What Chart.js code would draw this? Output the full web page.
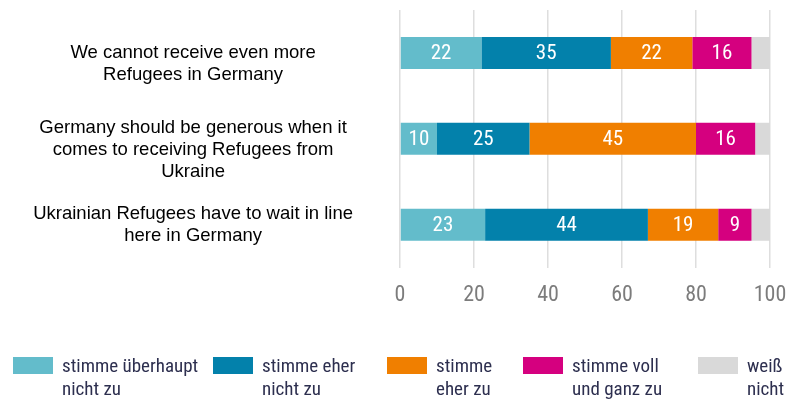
<!DOCTYPE html>
<html>
<head>
<meta charset="utf-8">
<script src="https://cdn.jsdelivr.net/npm/chart.js@4.4.1/dist/chart.umd.min.js"></script>
<style>
    html, body { margin: 0; padding: 0; background: #fff; }
    #wrap { width: 802px; height: 400px; }
</style>
</head>
<body>
<div id="wrap"><canvas id="chart"></canvas></div>
<script>
// Survey statements (blank first lines push the text a bit below the bar centre)
const QUESTIONS = [
    ['', 'We cannot receive even more', 'Refugees in Germany'],
    ['', 'Germany should be generous when it', 'comes to receiving Refugees from', 'Ukraine'],
    ['Ukrainian Refugees have to wait in line', 'here in Germany']
];

// Answer categories, in stacking order
const ANSWERS = [
    ['stimme überhaupt', 'nicht zu'],
    ['stimme eher', 'nicht zu'],
    ['stimme', 'eher zu'],
    ['stimme voll', 'und ganz zu'],
    ['weiß', 'nicht']
];

// Shares in percent, one value per statement
const NOT_AT_ALL = [22, 10, 23];
const RATHER_NOT = [35, 25, 44];
const RATHER_YES = [22, 45, 19];
const FULLY = [16, 16, 9];
const DONT_KNOW = [5, 4, 5];

const X_TICKS = [0, 20, 40, 60, 80, 100];

const COLORS = ['#63bccb', '#0381ab', '#f07f00', '#d5007f', '#d9d9d9'];
const CONDENSED = '"Roboto Condensed", "Liberation Sans Narrow", "DejaVu Sans Condensed", sans-serif';

const SERIES = [NOT_AT_ALL, RATHER_NOT, RATHER_YES, FULLY, DONT_KNOW];

// Writes the value into every bar segment except "weiß nicht"
const barValues = {
    id: 'barValues',
    afterDatasetsDraw(chart) {
        const ctx = chart.ctx;
        ctx.save();
        ctx.fillStyle = '#fff';
        ctx.font = '21px ' + CONDENSED;
        ctx.textAlign = 'center';
        ctx.textBaseline = 'middle';
        chart.data.datasets.forEach((ds, i) => {
            if (i === chart.data.datasets.length - 1) return;
            chart.getDatasetMeta(i).data.forEach((bar, j) => {
                const p = bar.getCenterPoint();
                ctx.fillText(ds.data[j], p.x, p.y + 1);
            });
        });
        ctx.restore();
    }
};

// Legend row under the axis with two-line labels
const LEGEND_X = [13, 213, 387, 523, 698];
const bottomLegend = {
    id: 'bottomLegend',
    afterDraw(chart) {
        const ctx = chart.ctx;
        ctx.save();
        ctx.font = '19px ' + CONDENSED;
        ctx.textBaseline = 'middle';
        ctx.textAlign = 'left';
        ANSWERS.forEach((lines, i) => {
            const x = LEGEND_X[i];
            ctx.fillStyle = COLORS[i];
            ctx.fillRect(x, 357, 40, 17);
            ctx.fillStyle = '#2d2f4f';
            lines.forEach((line, k) => {
                ctx.fillText(line, x + 49, 367 + k * 23);
            });
        });
        ctx.restore();
    }
};

new Chart(document.getElementById('chart'), {
    type: 'bar',
    data: {
        labels: QUESTIONS,
        datasets: SERIES.map((values, i) => ({
            label: ANSWERS[i].join(' '),
            data: values,
            backgroundColor: COLORS[i],
            borderWidth: 0,
            categoryPercentage: 1,
            barPercentage: 0.372
        }))
    },
    options: {
        indexAxis: 'y',
        responsive: true,
        maintainAspectRatio: false,
        animation: false,
        layout: { padding: { top: 10, right: 32, bottom: 76, left: 0 } },
        plugins: {
            legend: { display: false },
            tooltip: { enabled: false }
        },
        scales: {
            x: {
                stacked: true,
                min: 0,
                max: 100,
                afterBuildTicks(scale) {
                    scale.ticks = X_TICKS.map(v => ({ value: v }));
                },
                grid: { color: '#dedede', lineWidth: 1.5, drawTicks: false },
                border: { display: false },
                ticks: {
                    color: '#7c7c7c',
                    padding: 15,
                    font: { family: CONDENSED, size: 22 }
                }
            },
            y: {
                stacked: true,
                afterFit(scale) {
                    scale.width = 400;
                    scale.paddingTop = 0;
                    scale.paddingBottom = 0;
                },
                grid: { display: false, drawTicks: false },
                border: { display: false },
                ticks: {
                    autoSkip: false,
                    crossAlign: 'center',
                    padding: 47,
                    color: '#000',
                    font: { family: '"Liberation Sans", Arial, sans-serif', size: 18.5, lineHeight: '22px' }
                }
            }
        }
    },
    plugins: [barValues, bottomLegend]
});
</script>
</body>
</html>
